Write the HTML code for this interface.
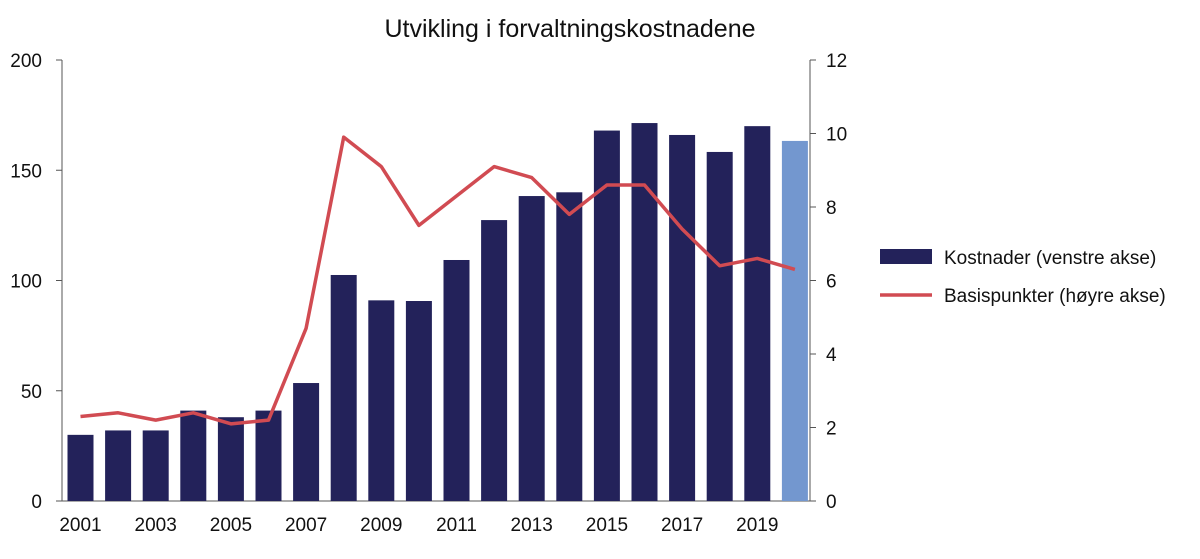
<!DOCTYPE html>
<html><head><meta charset="utf-8"><style>
body{margin:0;background:#fff;width:1200px;height:554px;overflow:hidden}
svg{font-family:"Liberation Sans","DejaVu Sans",sans-serif}
</style></head><body>
<svg id="chart" width="1200" height="554" xmlns="http://www.w3.org/2000/svg">
<text x="570" y="37" font-size="25" text-anchor="middle" fill="#111">Utvikling i forvaltningskostnadene</text>
<g id="axes"></g><g id="bars"></g><g id="line"></g>
<g>
<rect x="880" y="249" width="52" height="15" fill="#23225a"/>
<text x="944" y="264" font-size="19" fill="#111">Kostnader (venstre akse)</text>
<line x1="880" y1="295" x2="932" y2="295" stroke="#d14b52" stroke-width="3.5"/>
<text x="944" y="302" font-size="19" fill="#111">Basispunkter (høyre akse)</text>
</g>
</svg>
<script>
const years=[2001,2002,2003,2004,2005,2006,2007,2008,2009,2010,2011,2012,2013,2014,2015,2016,2017,2018,2019,2020];
const costs=[30,32,32,41,38,41,53.5,102.5,91,90.7,109.3,127.4,138.3,140,168,171.4,166,158.3,170,163.3];
const bps=[2.3,2.4,2.2,2.4,2.1,2.2,4.7,9.9,9.1,7.5,8.3,9.1,8.8,7.8,8.6,8.6,7.4,6.4,6.6,6.3];
const leftTicks=[0,50,100,150,200];
const rightTicks=[0,2,4,6,8,10,12];
const xLabels=[2001,2003,2005,2007,2009,2011,2013,2015,2017,2019];
const NS="http://www.w3.org/2000/svg";
const plotTop=60,plotBot=501,xL=62,xR=810,step=37.6,x0=80.5;
const yL=v=>plotBot-(v/200)*(plotBot-plotTop);
const yR=v=>plotBot-(v/12)*(plotBot-plotTop);
const xC=i=>x0+i*step;
function mk(tag,attrs,parent){const e=document.createElementNS(NS,tag);for(const k in attrs)e.setAttribute(k,attrs[k]);parent.appendChild(e);return e;}
const ax=document.getElementById('axes');
let el=mk('line',{x1:xL,y1:plotTop,x2:xL,y2:plotBot,stroke:'#555','stroke-width':1},ax);


el=mk('line',{x1:xR,y1:plotTop,x2:xR,y2:plotBot,stroke:'#555','stroke-width':1},ax);


el=mk('line',{x1:xL,y1:plotBot,x2:xR,y2:plotBot,stroke:'#555','stroke-width':1},ax);


leftTicks.forEach(v=>{
 const t=mk('line',{x1:xL-6,y1:yL(v),x2:xL,y2:yL(v),stroke:'#555'},ax);
 
 
 const l=mk('text',{x:42,y:yL(v)+7,'font-size':19,'text-anchor':'end',fill:'#111'},ax);l.textContent=v;
 
 
});
rightTicks.forEach(v=>{
 const t=mk('line',{x1:xR,y1:yR(v),x2:xR+6,y2:yR(v),stroke:'#555'},ax);
 
 
 const l=mk('text',{x:826,y:yR(v)+7,'font-size':19,fill:'#111'},ax);l.textContent=v;
 
 
});
xLabels.forEach(y=>{
 const i=years.indexOf(y);
 const l=mk('text',{x:xC(i),y:531,'font-size':19,'text-anchor':'middle',fill:'#111'},ax);l.textContent=y;
 
 
});
const bg=document.getElementById('bars');
costs.forEach((v,i)=>{
 const r=mk('rect',{x:xC(i)-13,y:yL(v),width:26,height:plotBot-yL(v),fill:i===costs.length-1?'#7397cf':'#23225a'},bg);
 
 
});
const lg=document.getElementById('line');
const pl=mk('polyline',{points:bps.map((v,i)=>xC(i)+','+yR(v)).join(' '),fill:'none',stroke:'#d14b52','stroke-width':3.5,'stroke-linejoin':'round'},lg);


</script>
</body></html>
